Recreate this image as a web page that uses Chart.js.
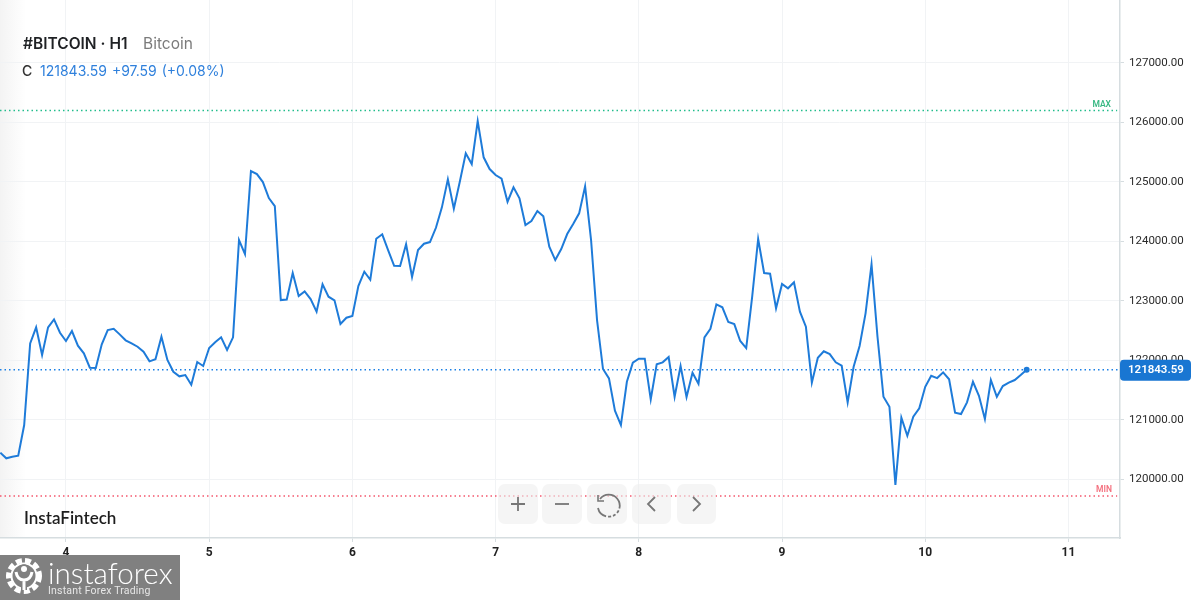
<!DOCTYPE html>
<html lang="en">
<head>
    <meta charset="UTF-8">
    <title>#BITCOIN H1</title>
    <script src="https://cdn.jsdelivr.net/npm/chart.js"></script>
    <style>
        html, body { margin: 0; padding: 0; background: #fff; }
        #wrap { position: relative; width: 1200px; height: 600px; overflow: hidden; font-family: Inter, Roboto, sans-serif; }
        canvas { position: absolute; left: 0; top: 0; }
        #fade { position: absolute; left: 0; top: 0; width: 26px; height: 538px; background: linear-gradient(to right, rgba(238,238,238,.7), rgba(255,255,255,0)); }
        .txt { position: absolute; white-space: nowrap; line-height: 1; }
        #title { left: 23px; top: 36px; font-size: 15.5px; font-weight: 600; color: #1f2124; }
        #sub { left: 143px; top: 36px; font-size: 15.5px; color: #7b7b7b; }
        #cLabel { left: 22px; top: 64px; font-size: 14px; font-weight: 500; color: #333; }
        #cValue { left: 40px; top: 64px; font-size: 14px; color: #2f80dc; word-spacing: 1px; }
        #brand { left: 24px; top: 509px; font-family: Lato, sans-serif; font-size: 17px; font-weight: 600; color: #1d1d1d; }
        .btn { position: absolute; top: 484px; height: 40px; border-radius: 7px; background: rgba(238,238,238,.6); }
        .btn svg { display: block; width: 100%; height: 100%; }
        #mark { position: absolute; left: 0; top: 555px; width: 180px; height: 45px; background: #808080; color: #fff; }
        #mark svg { position: absolute; left: 5px; top: 2px; }
        #markName { left: 48px; top: 3px; font-family: Lato, sans-serif; font-size: 29.6px; font-weight: 300; }
        #markSub { left: 48px; top: 31px; font-family: Roboto, sans-serif; font-size: 10.5px; color: #e6e6e6; letter-spacing: .2px; }
    </style>
</head>
<body>
<div id="wrap">
    <div id="fade"></div>
    <canvas id="chart" width="1200" height="600"></canvas>
    <div class="txt" id="title">#BITCOIN · H1</div>
    <div class="txt" id="sub">Bitcoin</div>
    <div class="txt" id="cLabel">C</div>
    <div class="txt" id="cValue">121843.59 +97.59 (+0.08%)</div>
    <div class="txt" id="brand">InstaFintech</div>

    <div class="btn" style="left:498px;width:40px"><svg viewBox="0 0 40 40"><path d="M20 13v14M13 20h14" stroke="#777" stroke-width="1.8" fill="none"/></svg></div>
    <div class="btn" style="left:542px;width:40px"><svg viewBox="0 0 40 40"><path d="M13 20h14" stroke="#777" stroke-width="1.8" fill="none"/></svg></div>
    <div class="btn" style="left:587px;width:40px"><svg viewBox="0 0 40 40"><path d="M13 15 A11 11 0 1 1 11 24" stroke="#777" stroke-width="1.8" fill="none" stroke-dasharray="30 2 3 2 3 2 3 2"/><path d="M11 11v6h6" stroke="#777" stroke-width="1.6" fill="none"/></svg></div>
    <div class="btn" style="left:632px;width:39px"><svg viewBox="0 0 39 40"><path d="M23 13l-7 7 7 7" stroke="#777" stroke-width="1.8" fill="none"/></svg></div>
    <div class="btn" style="left:677px;width:39px"><svg viewBox="0 0 39 40"><path d="M16 13l7 7-7 7" stroke="#777" stroke-width="1.8" fill="none"/></svg></div>

    <div id="mark">
        <svg width="38" height="38" viewBox="0 0 38 38">
            <circle cx="19" cy="19" r="15.5" stroke="#fff" stroke-width="5" fill="none" stroke-dasharray="6 3.2"/>
            <circle cx="19" cy="19" r="12.5" stroke="#fff" stroke-width="2" fill="none"/>
            <circle cx="19" cy="12" r="3.6" fill="#808080" stroke="#808080" stroke-width="2.5"/>
            <circle cx="19" cy="12" r="3" fill="#fff"/>
            <path d="M11 15c1 6 4 8 8 8s7-2 8-8M19 22v11" stroke="#808080" stroke-width="6" fill="none"/>
            <path d="M11 15c1 6 4 8 8 8s7-2 8-8M19 22v11" stroke="#fff" stroke-width="3" fill="none"/>
        </svg>
        <div class="txt" id="markName">instaforex</div>
        <div class="txt" id="markSub">Instant Forex Trading</div>
    </div>
</div>

<script>
    // Hourly closes, first one is day 3 13:00
    const closes = [
        120450, 120356, 120383, 120400, 120915, 122287, 122556, 122091, 122556, 122690,
        122465, 122326, 122494, 122247, 122119, 121877, 121872, 122270, 122511, 122532,
        122438, 122338, 122287, 122230, 122146, 121985, 122019, 122398, 122007, 121810,
        121733, 121755, 121592, 121973, 121906, 122208, 122304, 122388, 122175, 122388,
        124022, 123787, 125181, 125130, 124996, 124727, 124593, 123014, 123023, 123468,
        123082, 123160, 123031, 122818, 123278, 123070, 123009, 122611, 122717, 122746,
        123249, 123490, 123355, 124044, 124118, 123849, 123590, 123585, 123950, 123401,
        123854, 123960, 123988, 124228, 124571, 125041, 124548, 125001, 125478, 125298,
        126020, 125411, 125214, 125113, 125051, 124665, 124907, 124722, 124274, 124341,
        124509, 124420, 123909, 123686, 123871, 124123, 124291, 124470, 124924, 124022,
        122678, 121856, 121699, 121155, 120915, 121642, 121961, 122029, 122029, 121347,
        121935, 121968, 122057, 121390, 121906, 121385, 121793, 121609, 122388, 122532,
        122942, 122892, 122645, 122611, 122326, 122208, 123070, 124039, 123468, 123456,
        122875, 123283, 123211, 123312, 122818, 122566, 121626, 122045, 122153, 122107,
        121968, 121911, 121296, 121894, 122242, 122791, 123614, 122398, 121390, 121223,
        119908, 121038, 120736, 121055, 121196, 121558, 121743, 121704, 121800, 121683,
        121122, 121100, 121296, 121642, 121407, 121016, 121671, 121390, 121570, 121626,
        121671, 121755, 121843.59
    ];
    const firstDay = 3 + 13 / 24;
    const hoursPerDay = 24;
    const dayTicks = [4, 5, 6, 7, 8, 9, 10, 11];
    const priceTicks = [120000, 121000, 122000, 123000, 124000, 125000, 126000, 127000];
    const lastClose = 121843.59;
    const maxLevel = 126197;
    const minLevel = 119723;
    const dayRange = [3.5394, 11.36];
    const priceRange = [119018, 128053];

    const blue = '#1e7bd9';
    const gridColor = '#f1f3f5';
    const axisColor = '#d6dde0';

    function level(value, color, right) {
        return {
            data: [{ x: dayRange[0], y: value }, { x: right, y: value }],
            borderColor: color,
            borderWidth: 1.3,
            borderDash: [1.5, 3],
            pointRadius: 0,
            order: 2
        };
    }

    // Price tag and MAX / MIN captions on top of the axis
    const tagsPlugin = {
        id: 'tags',
        afterDraw(chart) {
            const ctx = chart.ctx;
            const y = chart.scales.y;
            const py = y.getPixelForValue(lastClose);
            ctx.save();
            ctx.fillStyle = '#1976d2';
            ctx.beginPath();
            ctx.roundRect(1120, py - 10, 71, 21, 4);
            ctx.fill();
            ctx.fillStyle = '#fff';
            ctx.font = '600 11.5px Roboto, sans-serif';
            ctx.textBaseline = 'middle';
            ctx.textAlign = 'left';
            ctx.fillText(lastClose.toFixed(2), 1128, py + 0.5);

            ctx.font = '600 8.5px Roboto, sans-serif';
            ctx.textAlign = 'right';
            ctx.fillStyle = '#38b883';
            ctx.fillText('MAX', 1111, y.getPixelForValue(maxLevel) - 6);
            ctx.fillStyle = '#f4717f';
            ctx.fillText('MIN', 1112, y.getPixelForValue(minLevel) - 6);
            ctx.restore();
        }
    };

    new Chart(document.getElementById('chart').getContext('2d'), {
        type: 'line',
        data: {
            datasets: [
                {
                    data: closes.map((c, i) => ({ x: firstDay + i / hoursPerDay, y: c })),
                    borderColor: blue,
                    borderWidth: 2,
                    tension: 0,
                    pointRadius: closes.map((c, i) => i === closes.length - 1 ? 3 : 0),
                    pointBackgroundColor: blue,
                    pointBorderWidth: 0,
                    order: 1
                },
                level(lastClose, '#1a80e6', dayRange[1]),
                level(maxLevel, '#22bd8c', 11.34),
                level(minLevel, '#f4566c', 11.34)
            ]
        },
        options: {
            responsive: false,
            animation: { duration: 0 },
            layout: { padding: 0, autoPadding: false },
            plugins: { legend: { display: false }, tooltip: { enabled: false } },
            scales: {
                x: {
                    type: 'linear',
                    min: dayRange[0],
                    max: dayRange[1],
                    afterFit: (axis) => { axis.height = 62; axis.paddingLeft = 0; axis.paddingRight = 0; },
                    afterBuildTicks: (axis) => { axis.ticks = dayTicks.map((v) => ({ value: v })); },
                    grid: { color: gridColor, tickColor: axisColor, tickLength: 4 },
                    border: { color: axisColor, width: 1.5 },
                    ticks: {
                        maxRotation: 0,
                        autoSkip: false,
                        padding: 4,
                        color: '#222',
                        font: { family: 'Roboto, sans-serif', size: 12, weight: '700' }
                    }
                },
                y: {
                    position: 'right',
                    min: priceRange[0],
                    max: priceRange[1],
                    afterFit: (axis) => { axis.width = 80; axis.paddingTop = 0; axis.paddingBottom = 0; },
                    afterBuildTicks: (axis) => { axis.ticks = priceTicks.map((v) => ({ value: v })); },
                    grid: { color: gridColor, tickColor: axisColor, tickLength: 4 },
                    border: { color: axisColor, width: 1.5 },
                    ticks: {
                        padding: 5,
                        color: '#2b2b2b',
                        callback: (v) => v.toFixed(2),
                        font: { family: 'Roboto, sans-serif', size: 11.5 }
                    }
                }
            }
        },
        plugins: [tagsPlugin]
    });
</script>
</body>
</html>
